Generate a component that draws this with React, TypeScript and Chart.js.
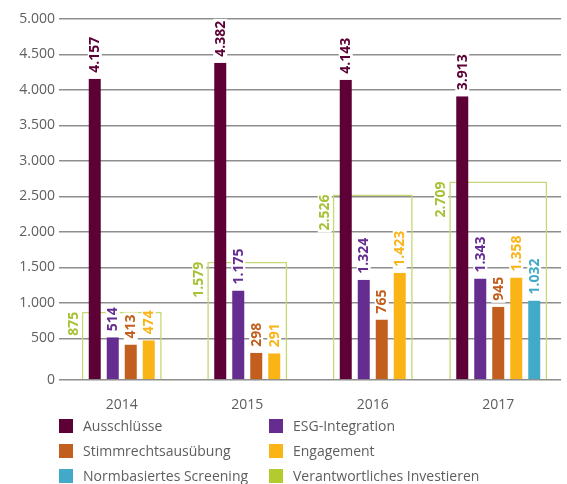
import React, { useEffect, useRef } from 'react';
import { Chart, registerables } from 'chart.js';

Chart.register(...registerables);

const categories = ['2014', '2015', '2016', '2017'];
const ausschluesse = [4157, 4382, 4143, 3913];
const esgIntegration = [514, 1175, 1324, 1343];
const stimmrechtsausuebung = [413, 298, 765, 945];
const engagement = [474, 291, 1423, 1358];
const normbasiertesScreening = [null, null, null, 1032];
const verantwortlichesInvestieren = [875, 1579, 2526, 2709];
const yTicks = [0, 500, 1000, 1500, 2000, 2500, 3000, 3500, 4000, 4500, 5000];

const seriesNames = [
  'Ausschlüsse',
  'ESG-Integration',
  'Stimmrechtsausübung',
  'Engagement',
  'Normbasiertes Screening',
  'Verantwortliches Investieren',
];
const seriesColors = ['#5c0036', '#662d91', '#c25f1f', '#fbb416', '#42aac8', '#b3cb2f'];
const labelColors = ['#5c0036', '#662d91', '#c25f1f', '#fbb416', '#42aac8', '#a6c237'];
const boxLineColor = '#c6d874';

const Y_MIN = -87;
const Y_MAX = 5000;
const FONT = '"Open Sans", "DejaVu Sans", sans-serif';
const TEXT_GRAY = '#5e5e5e';

function fmt(v: number): string {
  return Math.round(v).toString().replace(/\B(?=(\d{3})+(?!\d))/g, '.');
}

const boxPlugin = {
  id: 'outlineBox',
  afterDatasetsUpdate(chart: any) {
    const n = chart.data.datasets.length;
    const boxMeta = chart.getDatasetMeta(n - 1);
    boxMeta.data.forEach((boxEl: any, j: number) => {
      let left = Infinity;
      let right = -Infinity;
      for (let i = 0; i < n - 1; i++) {
        const v = chart.data.datasets[i].data[j];
        if (v === null || v === undefined) continue;
        const el = chart.getDatasetMeta(i).data[j];
        left = Math.min(left, el.x - el.width / 2);
        right = Math.max(right, el.x + el.width / 2);
      }
      if (isFinite(left)) {
        boxEl.x = (left + right) / 2;
        boxEl.width = right - left + 8;
      }
    });
  },
};

const labelPlugin = {
  id: 'valueLabels',
  afterDatasetsDraw(chart: any) {
    const ctx = chart.ctx;
    const n = chart.data.datasets.length;
    ctx.save();
    ctx.font = 'bold 14px ' + FONT;
    for (let i = 0; i < n; i++) {
      const meta = chart.getDatasetMeta(i);
      const data = chart.data.datasets[i].data;
      meta.data.forEach((el: any, j: number) => {
        const v = data[j];
        if (v === null || v === undefined) return;
        const text = fmt(v);
        const w = ctx.measureText(text).width;
        ctx.save();
        if (i === n - 1) {
          const x = el.x - el.width / 2 - 3;
          ctx.translate(x, el.y);
          ctx.rotate(-Math.PI / 2);
          ctx.fillStyle = '#ffffff';
          ctx.fillRect(-w - 2, -12, w + 4, 14);
          ctx.fillStyle = labelColors[i];
          ctx.textAlign = 'right';
          ctx.textBaseline = 'alphabetic';
          ctx.fillText(text, 0, -1);
        } else {
          ctx.translate(el.x, el.y - 6);
          ctx.rotate(-Math.PI / 2);
          ctx.fillStyle = '#ffffff';
          ctx.fillRect(-2, -7, w + 4, 14);
          ctx.fillStyle = labelColors[i];
          ctx.textAlign = 'left';
          ctx.textBaseline = 'middle';
          ctx.fillText(text, 0, 0.5);
        }
        ctx.restore();
      });
    }
    ctx.restore();
  },
};

export default function App() {
  const canvasRef = useRef<HTMLCanvasElement | null>(null);

  useEffect(() => {
    if (!canvasRef.current) return;
    const seriesData = [
      ausschluesse,
      esgIntegration,
      stimmrechtsausuebung,
      engagement,
      normbasiertesScreening,
    ];
    const datasets: any[] = seriesData.map((d, i) => ({
      label: seriesNames[i],
      data: d,
      backgroundColor: seriesColors[i],
      borderColor: 'rgba(0,0,0,0)',
      borderWidth: { left: 3, right: 3, top: 0, bottom: 0 },
      borderSkipped: false,
      barThickness: 18,
      inflateAmount: 0,
      base: Y_MIN,
      skipNull: true,
    }));
    datasets.push({
      label: seriesNames[5],
      data: verantwortlichesInvestieren,
      backgroundColor: 'rgba(0,0,0,0)',
      borderColor: boxLineColor,
      borderWidth: 1.5,
      borderSkipped: 'start',
      grouped: false,
      inflateAmount: 0,
      base: Y_MIN,
      skipNull: true,
    });

    const chart = new Chart(canvasRef.current, {
      type: 'bar',
      data: { labels: categories, datasets },
      options: {
        responsive: false,
        animation: false,
        devicePixelRatio: 1,
        layout: { padding: { top: 19, right: 6, left: 0, bottom: 0 } },
        plugins: {
          legend: { display: false },
          tooltip: { enabled: false },
        },
        scales: {
          x: {
            grid: { display: false },
            border: { display: false },
            ticks: { color: TEXT_GRAY, font: { family: FONT, size: 14 }, padding: 9 },
            afterFit: (s: any) => {
              s.height = 40;
            },
          },
          y: {
            min: Y_MIN,
            max: Y_MAX,
            grid: { color: '#8e8e8e', lineWidth: 1.5, drawTicks: false },
            border: { display: false },
            afterBuildTicks: (s: any) => {
              s.ticks = yTicks.map((v) => ({ value: v === 0 ? Y_MIN : v }));
            },
            ticks: {
              color: TEXT_GRAY,
              font: { family: FONT, size: 14 },
              padding: 4,
              callback: (value: any) => (value <= 0 ? '0' : fmt(value)),
            },
            afterFit: (s: any) => {
              s.width = 59;
            },
          },
        },
      } as any,
      plugins: [boxPlugin, labelPlugin],
    });
    return () => chart.destroy();
  }, []);

  const legendItems = seriesNames.map((name, i) => ({ name, color: seriesColors[i] }));

  return (
    <div style={{ position: 'absolute', left: 0, top: 0, width: 567, height: 484, background: '#fff' }}>
      <canvas ref={canvasRef} width={567} height={420} style={{ position: 'absolute', left: 0, top: 0 }} />
      {legendItems.map((item, i) => {
        const col = i % 2;
        const row = Math.floor(i / 2);
        return (
          <div
            key={item.name}
            style={{
              position: 'absolute',
              left: col === 0 ? 59 : 269,
              top: 413 + row * 25,
              height: 25,
              display: 'flex',
              alignItems: 'center',
              fontFamily: FONT,
              fontSize: 14,
              color: TEXT_GRAY,
              whiteSpace: 'nowrap',
            }}
          >
            <span style={{ display: 'inline-block', width: 14, height: 14, background: item.color, marginRight: 10 }} />
            <span>{item.name}</span>
          </div>
        );
      })}
    </div>
  );
}
